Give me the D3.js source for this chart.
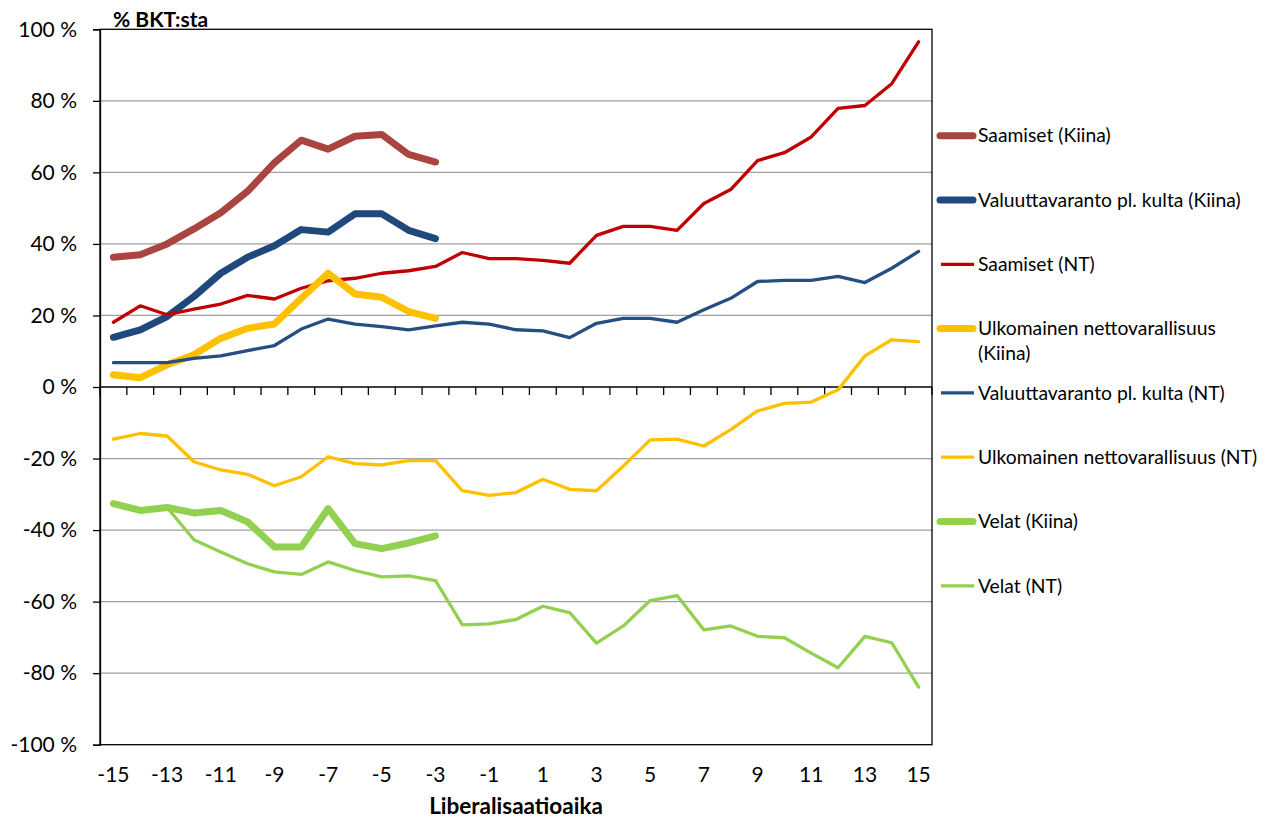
<!DOCTYPE html>
<html><head><meta charset="utf-8">
<script src="https://cdn.jsdelivr.net/npm/d3@7"></script>
<style>
html,body{margin:0;padding:0;background:#fff;}
text{font-family:Lato,"Open Sans",sans-serif;fill:#000;}
</style></head>
<body><svg id="c" width="1268" height="818"></svg>
<script>
const categories = d3.range(-15, 16);
const tickLabels = [-15,-13,-11,-9,-7,-5,-3,-1,1,3,5,7,9,11,13,15];
const yTicks = [-100,-80,-60,-40,-20,0,20,40,60,80,100];

const saamisetKiina = [36.3,37.0,40.0,44.2,48.7,54.7,62.7,69.0,66.5,70.1,70.6,65.0,62.9];
const valuuttaKiina = [13.9,16.0,19.7,25.3,31.8,36.3,39.5,44.0,43.3,48.4,48.4,43.8,41.5];
const saamisetNT = [18.1,22.7,20.2,21.8,23.2,25.6,24.6,27.6,29.7,30.4,31.8,32.5,33.7,37.6,35.9,35.9,35.4,34.6,42.4,44.9,44.9,43.8,51.3,55.2,63.3,65.5,69.9,77.9,78.7,84.8,96.5];
const ulkomainenKiina = [3.4,2.6,6.2,9.0,13.6,16.4,17.6,24.8,31.8,26.0,25.1,21.1,19.2];
const valuuttaNT = [6.8,6.8,6.8,8.0,8.7,10.2,11.6,16.2,19.0,17.6,16.9,16.0,17.1,18.1,17.6,16.0,15.7,13.8,17.8,19.2,19.2,18.1,21.6,24.8,29.5,29.8,29.8,30.9,29.2,33.2,37.9];
const ulkomainenNT = [-14.6,-13.0,-13.7,-20.9,-23.2,-24.4,-27.6,-25.1,-19.5,-21.4,-21.8,-20.6,-20.6,-29.0,-30.3,-29.5,-25.8,-28.6,-29.0,-22.1,-14.8,-14.6,-16.5,-11.9,-6.7,-4.6,-4.2,-0.8,8.7,13.2,12.7];
const velatKiina = [-32.6,-34.5,-33.7,-35.2,-34.5,-37.7,-44.7,-44.7,-34.0,-43.8,-45.2,-43.6,-41.6];
const velatNT = [-32.6,-34.5,-33.7,-42.7,-46.1,-49.4,-51.7,-52.4,-48.9,-51.3,-53.1,-52.8,-54.1,-66.5,-66.2,-65.0,-61.3,-63.1,-71.6,-66.8,-59.7,-58.3,-67.9,-66.8,-69.7,-70.1,-74.4,-78.5,-69.7,-71.5,-83.9];

const seriesNames = ["Saamiset (Kiina)","Valuuttavaranto pl. kulta (Kiina)","Saamiset (NT)","Ulkomainen nettovarallisuus (Kiina)","Valuuttavaranto pl. kulta (NT)","Ulkomainen nettovarallisuus (NT)","Velat (Kiina)","Velat (NT)"];
const seriesValues = [saamisetKiina,valuuttaKiina,saamisetNT,ulkomainenKiina,valuuttaNT,ulkomainenNT,velatKiina,velatNT];
const seriesColors = ["#A9443F","#1F497D","#C00000","#FFC000","#254E82","#FFC000","#92D050","#92D050"];
const seriesThick = [true,true,false,true,false,false,true,false];
const legendLines = [["Saamiset (Kiina)"],["Valuuttavaranto pl. kulta (Kiina)"],["Saamiset (NT)"],["Ulkomainen nettovarallisuus","(Kiina)"],["Valuuttavaranto pl. kulta (NT)"],["Ulkomainen nettovarallisuus (NT)"],["Velat (Kiina)"],["Velat (NT)"]];

const L = 100, R = 932, T = 29.3, B = 744.7;
const svg = d3.select("#c");
const x = d3.scaleBand().domain(categories).range([L, R]).padding(0);
const xc = c => x(c) + x.bandwidth()/2;
const y = d3.scaleLinear().domain([-100, 100]).range([B, T]);

// gridlines
svg.append("g").selectAll("line").data(yTicks.filter(v => v!==0 && v!==100 && v!==-100)).join("line")
  .attr("x1", L).attr("x2", R).attr("y1", d => y(d)).attr("y2", d => y(d))
  .attr("stroke", "#a0a0a0").attr("stroke-width", 1.3);

// border
svg.append("rect").attr("x", L).attr("y", y(100)).attr("width", R-L).attr("height", y(-100)-y(100))
  .attr("fill","none").attr("stroke","#000").attr("stroke-width",1.3);

// y axis
const yAxis = d3.axisLeft(y).tickValues(yTicks).tickSize(7).tickPadding(16).tickFormat(d => `${d} %`);
const gy = svg.append("g").attr("transform", `translate(${L},0)`).call(yAxis);
gy.select(".domain").attr("stroke","#000").attr("stroke-width",1.3);
gy.selectAll(".tick line").attr("stroke","#000").attr("stroke-width",1.3);
gy.selectAll("text").style("font-size","21px").style("font-family","Lato").attr("fill","#000");

// x axis at zero
const gx = svg.append("g");
gx.append("line").attr("x1", L).attr("x2", R).attr("y1", y(0)).attr("y2", y(0)).attr("stroke","#000").attr("stroke-width",1.3);
const bounds = categories.map(c => x(c)).concat([x(categories[categories.length-1]) + x.bandwidth()]);
gx.selectAll("line.t").data(bounds).join("line").attr("class","t")
  .attr("x1", d => d).attr("x2", d => d).attr("y1", y(0)).attr("y2", y(0)+8)
  .attr("stroke","#000").attr("stroke-width",1.3);
gx.selectAll("text").data(tickLabels).join("text")
  .attr("x", d => xc(d)).attr("y", 775).attr("dy","0.35em").attr("text-anchor","middle")
  .style("font-size","21px").text(d => d);

// lines
const line = d3.line().x((d,i) => xc(categories[i])).y(d => y(d));
seriesValues.forEach((vals, k) => {
  svg.append("path").datum(vals).attr("d", line).attr("fill","none")
    .attr("stroke", seriesColors[k]).attr("stroke-width", seriesThick[k] ? 7 : 3.3)
    .attr("stroke-linejoin","round").attr("stroke-linecap","round");
});

// titles
svg.append("text").attr("x", 113).attr("y", 27).style("font-size","21px").style("font-weight","bold").text("% BKT:sta");
svg.append("text").attr("x", (L+R)/2).attr("y", 814).attr("text-anchor","middle").style("font-size","22.5px").style("font-weight","bold").text("Liberalisaatioaika");

// legend
const legStart = 135.7, legStep = 64.3;
legendLines.forEach((lines, k) => {
  const cy = legStart + k*legStep;
  const thick = seriesThick[k];
  svg.append("line").attr("x1", thick ? 940 : 941).attr("x2", thick ? 973 : 974).attr("y1", cy).attr("y2", cy)
    .attr("stroke", seriesColors[k]).attr("stroke-width", thick ? 7 : 3.3).attr("stroke-linecap", thick ? "round" : "butt");
  lines.forEach((t, j) => {
    svg.append("text").attr("x", 978).attr("y", cy + j*25).attr("dy","0.35em").style("font-size","19.3px").text(t);
  });
});
</script></body></html>
